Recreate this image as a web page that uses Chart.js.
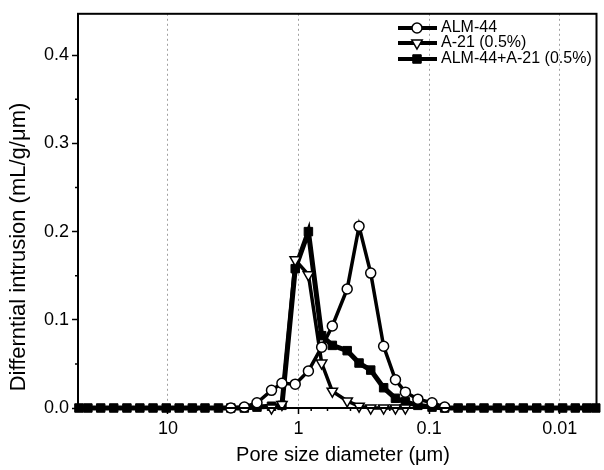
<!DOCTYPE html>
<html>
<head>
<meta charset="utf-8">
<script src="https://cdn.jsdelivr.net/npm/chart.js@4.4.1/dist/chart.umd.min.js"></script>
<style>
html, body { margin: 0; padding: 0; background: #fff; }
#wrap { width: 604px; height: 470px; }
</style>
</head>
<body>
<div id="wrap"><canvas id="poreChart" width="604" height="470"></canvas></div>
<script>
// pore diameters (um), shared by all three runs
var diameters = [48, 41, 32.7, 26, 20.6, 16.4, 13, 10.3, 8.2, 6.5, 5.2, 4.1, 3.3, 2.6,
    2.08, 1.61, 1.34, 1.06, 0.84, 0.665, 0.551, 0.424, 0.344, 0.28, 0.223, 0.181, 0.152, 0.122, 0.095,
    0.076, 0.06, 0.048, 0.038, 0.03, 0.024, 0.019, 0.015, 0.012, 0.0095, 0.0076, 0.0062, 0.0053];

var alm44 = [null, null, null, null, null, null, null, null, null, null, null, null, 0, 0.001,
    0.006, 0.020, 0.028, 0.027, 0.042, 0.069, 0.093, 0.135, 0.206, 0.153, 0.070, 0.032, 0.018, 0.010, 0.006,
    0.001, null, null, null, null, null, null, null, null, null, null, null, null];

var a21 = [null, null, null, null, null, null, null, null, null, null, null, null, null, null,
    null, 0, 0.004, 0.168, 0.151, 0.051, 0.019, 0.008, 0.002, 0, 0, 0, 0, null, null,
    null, null, null, null, null, null, null, null, null, null, null, null, null];

var blend = [0, 0, 0, 0, 0, 0, 0, 0, 0, 0, 0, 0, 0, 0,
    0.001, 0.002, 0.003, 0.158, 0.200, 0.082, 0.071, 0.065, 0.051, 0.043, 0.023, 0.011, 0.007, 0.003, 0.001,
    0, 0, 0, 0, 0, 0, 0, 0, 0, 0, 0, 0, 0];

var seriesLabels = ['ALM-44', 'A-21 (0.5%)', 'ALM-44+A-21 (0.5%)'];
var xTicks = [10, 1, 0.1, 0.01];
var xTickLabels = ['10', '1', '0.1', '0.01'];
var yTicks = [0, 0.1, 0.2, 0.3, 0.4];
var yMinorTicks = [0.05, 0.15, 0.25, 0.35];

var FONT = 'Arial, "Liberation Sans", sans-serif';

function toPoints(values) {
    return diameters.map(function(d, i) {
        return { x: d, y: values[i] };
    });
}

// frame, minor ticks, axis titles and the legend with line + marker
var decorPlugin = {
    id: 'decor',
    afterDraw: function(chart) {
        var ctx = chart.ctx;
        var area = chart.chartArea;
        var xs = chart.scales.x;
        var ys = chart.scales.y;
        ctx.save();

        ctx.strokeStyle = '#000';
        ctx.lineWidth = 2;
        ctx.strokeRect(area.left, area.top, area.right - area.left, area.bottom - area.top);

        ctx.lineWidth = 1.5;
        ctx.beginPath();
        yMinorTicks.forEach(function(v) {
            var y = ys.getPixelForValue(v);
            ctx.moveTo(area.left - 3, y);
            ctx.lineTo(area.left, y);
        });
        [10, 1, 0.1, 0.01].forEach(function(dec) {
            [2, 4, 6, 8].forEach(function(m) {
                var v = dec * m;
                if (v > xs.max || v < xs.min) return;
                var x = xs.getPixelForValue(v);
                ctx.moveTo(x, area.bottom);
                ctx.lineTo(x, area.bottom + 3);
            });
        });
        ctx.stroke();

        ctx.fillStyle = '#000';
        ctx.font = '20px ' + FONT;
        ctx.textAlign = 'center';
        ctx.textBaseline = 'middle';
        ctx.fillText('Pore size diameter (\u03bcm)', 343, 455);

        ctx.save();
        ctx.translate(19, 247);
        ctx.rotate(-Math.PI / 2);
        ctx.font = '22px ' + FONT;
        ctx.fillText('Differntial intrusion (mL/g/\u03bcm)', 0, 0);
        ctx.restore();

        var rows = [28, 43, 59];
        chart.data.datasets.forEach(function(ds, i) {
            var y = rows[i];
            ctx.strokeStyle = '#000';
            ctx.lineWidth = 4;
            ctx.beginPath();
            ctx.moveTo(398, y);
            ctx.lineTo(437, y);
            ctx.stroke();
            ctx.fillStyle = ds.pointBackgroundColor;
            ctx.strokeStyle = '#000';
            ctx.lineWidth = ds.pointBorderWidth;
            Chart.helpers.drawPoint(ctx, {
                pointStyle: ds.pointStyle,
                rotation: ds.pointRotation || 0,
                radius: ds.pointRadius,
                borderWidth: ds.pointBorderWidth
            }, 417, y);
            ctx.fillStyle = '#000';
            ctx.font = '16px ' + FONT;
            ctx.textAlign = 'left';
            ctx.fillText(seriesLabels[i], 441, y);
        });
        ctx.restore();
    }
};

var ctx = document.getElementById('poreChart').getContext('2d');
new Chart(ctx, {
    type: 'line',
    data: {
        datasets: [{
            label: seriesLabels[0],
            data: toPoints(alm44),
            borderColor: '#000',
            borderWidth: 3.5,
            pointStyle: 'circle',
            pointRadius: 5,
            pointBackgroundColor: '#fff',
            pointBorderColor: '#000',
            pointBorderWidth: 1.5,
            clip: false
        }, {
            label: seriesLabels[1],
            data: toPoints(a21),
            borderColor: '#000',
            borderWidth: 3.5,
            pointStyle: 'triangle',
            pointRotation: 180,
            pointRadius: 6,
            pointBackgroundColor: '#fff',
            pointBorderColor: '#000',
            pointBorderWidth: 1.5,
            clip: false
        }, {
            label: seriesLabels[2],
            data: toPoints(blend),
            borderColor: '#000',
            borderWidth: 5,
            pointStyle: 'rect',
            pointRadius: 6,
            pointBackgroundColor: '#000',
            pointBorderColor: '#000',
            pointBorderWidth: 1,
            clip: false
        }]
    },
    options: {
        responsive: false,
        devicePixelRatio: 1,
        animation: false,
        layout: { padding: { left: 0, right: 4, top: 10, bottom: 0 } },
        plugins: {
            legend: { display: false },
            tooltip: { enabled: false }
        },
        scales: {
            x: {
                type: 'logarithmic',
                reverse: true,
                min: 0.00523,
                max: 48.8,
                afterBuildTicks: function(scale) {
                    scale.ticks = xTicks.map(function(v) { return { value: v }; });
                },
                afterFit: function(scale) { scale.height = 62; },
                ticks: {
                    autoSkip: false,
                    maxRotation: 0,
                    color: '#000',
                    font: { family: FONT, size: 18 },
                    padding: 4,
                    callback: function(value, index) { return xTickLabels[index]; }
                },
                grid: {
                    color: '#a0a0a0',
                    lineWidth: 1,
                    tickColor: '#000',
                    tickLength: 6,
                    tickWidth: 1.5
                },
                border: { display: true, color: '#000', width: 2, dash: [2, 3] }
            },
            y: {
                type: 'linear',
                min: 0,
                max: 0.447,
                afterBuildTicks: function(scale) {
                    scale.ticks = yTicks.map(function(v) { return { value: v }; });
                },
                afterFit: function(scale) { scale.width = 78; },
                ticks: {
                    color: '#000',
                    font: { family: FONT, size: 18 },
                    padding: 3,
                    callback: function(value) { return value.toFixed(1); }
                },
                grid: {
                    drawOnChartArea: false,
                    tickColor: '#000',
                    tickLength: 6,
                    tickWidth: 1.5
                },
                border: { display: true, color: '#000', width: 2 }
            }
        }
    },
    plugins: [decorPlugin]
});
</script>
</body>
</html>
